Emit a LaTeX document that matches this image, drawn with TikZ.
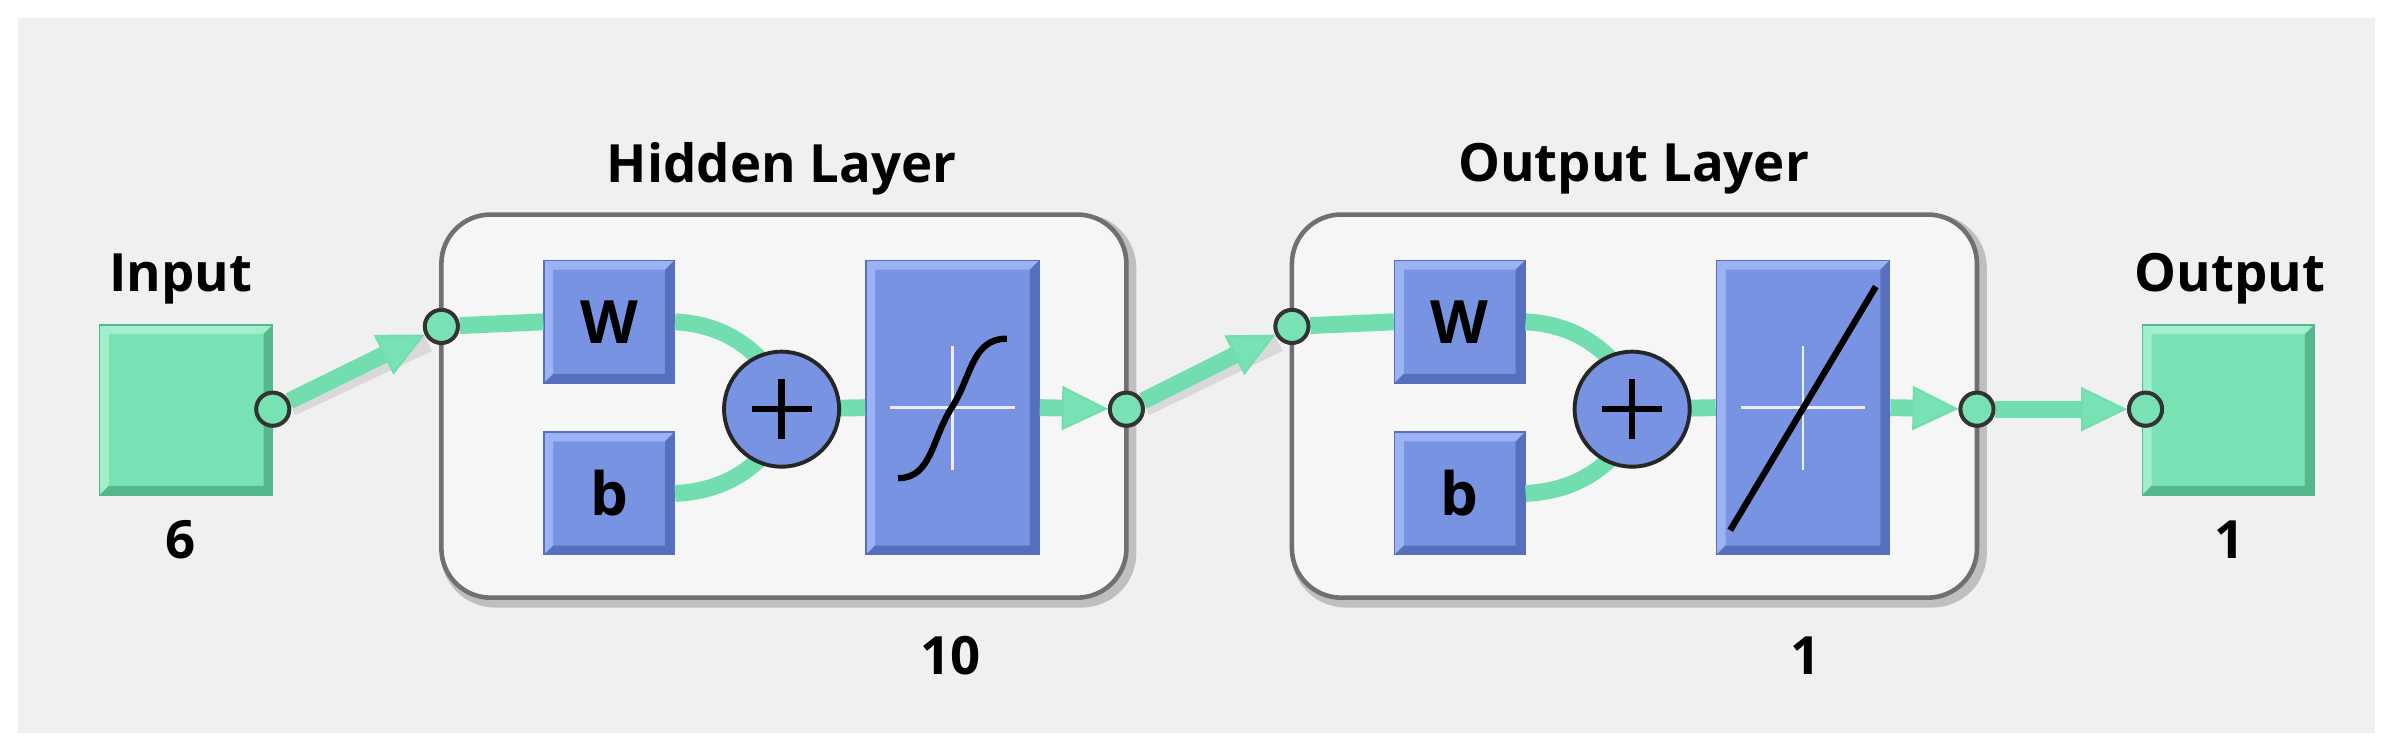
\documentclass[tikz,border=0pt]{standalone}
\usepackage{fontspec}
\setmainfont{Open Sans}
\usetikzlibrary{arrows.meta}
\definecolor{bg}{HTML}{F0F0F0}
\definecolor{gfill}{HTML}{78E2B4}
\definecolor{glight}{HTML}{A0EECC}
\definecolor{gdark}{HTML}{55B88C}
\definecolor{gline}{HTML}{72DDAE}
\definecolor{bfill}{HTML}{7893E2}
\definecolor{blight}{HTML}{9DB2F2}
\definecolor{bdark}{HTML}{5770BE}
\definecolor{frame}{HTML}{707070}
\tikzset{
  x=0.015325cm, y=-0.015325cm,
  lbl/.style={font=\bfseries\fontsize{15}{18}\selectfont, inner sep=0},
  bevel/.style 2 args={path picture={
    \fill[#1] (path picture bounding box.north west) -- (path picture bounding box.north east) -- ([shift={(-6,6)}]path picture bounding box.north east) -- ([shift={(6,6)}]path picture bounding box.north west) -- ([shift={(6,-6)}]path picture bounding box.south west) -- (path picture bounding box.south west) -- cycle;
    \fill[#2] (path picture bounding box.south east) -- (path picture bounding box.north east) -- ([shift={(-6,6)}]path picture bounding box.north east) -- ([shift={(-6,-6)}]path picture bounding box.south east) -- ([shift={(6,-6)}]path picture bounding box.south west) -- (path picture bounding box.south west) -- cycle;}},
  gbox/.style={rectangle, fill=gfill, draw=gdark, line width=0.4pt, inner sep=0, bevel={glight}{gdark}},
  bbox/.style={rectangle, fill=bfill, draw=bdark, line width=0.4pt, inner sep=0, bevel={blight}{bdark}, font=\bfseries\fontsize{17}{20}\selectfont},
  dot/.style={circle, fill=gfill, draw=black!80, line width=1.1pt, minimum size=0.33cm, inner sep=0},
  wire/.style={draw=gline, line width=4.8pt},
  shadow/.style={draw=black!15, line width=4.8pt},
  arr/.style={wire, -{Triangle[length=0.46cm, width=0.44cm, fill=gfill, line width=0.6pt]}},
  layer/.style={rectangle, rounded corners=14pt, draw=frame, line width=1.3pt, fill=bg!60!white},
  plus/.style={circle, fill=bfill, draw=black!85, line width=1.1pt, minimum size=1.15cm, inner sep=0},
}
\begin{document}
\begin{tikzpicture}
\useasboundingbox (0,0) rectangle (1568,490);
\fill[white] (0,0) rectangle (1568,490);
\fill[bg] (12,12) rectangle (1550,478);

\draw[black!25, line width=3pt, rounded corners=14pt] (291,143) rectangle (738,393);
\node[layer, minimum width=447*0.015325cm, minimum height=250*0.015325cm] (hl) at (511.5,265) {};
\draw[black!25, line width=3pt, rounded corners=14pt] (846,143) rectangle (1293,393);
\node[layer, minimum width=447*0.015325cm, minimum height=250*0.015325cm] (ol) at (1066.5,265) {};
\node[lbl] (hlt) at (510,110) {Hidden Layer};
\node[lbl] (olt) at (1066,110) {Output Layer};
\node[lbl] (hn) at (620,428) {10};
\node[lbl] (on) at (1178,428) {1};

\node[gbox, minimum width=113*0.015325cm, minimum height=111*0.015325cm] (in) at (121.5,267.5) {};
\node[lbl] (int) at (118,182) {Input};
\node[lbl] (inn) at (118,352) {6};
\node[gbox, minimum width=112*0.015325cm, minimum height=111*0.015325cm] (out) at (1454,267.5) {};
\node[lbl] (outt) at (1455,182) {Output};
\node[lbl] (outn) at (1455,352) {1};

\node[bbox, minimum width=85*0.015325cm, minimum height=80*0.015325cm] (w1) at (397.5,210) {W};
\node[bbox, minimum width=85*0.015325cm, minimum height=80*0.015325cm] (b1) at (397.5,322) {b};
\node[bbox, minimum width=113*0.015325cm, minimum height=192*0.015325cm] (t1) at (621.5,266) {};
\node[bbox, minimum width=85*0.015325cm, minimum height=80*0.015325cm] (w2) at (952.5,210) {W};
\node[bbox, minimum width=85*0.015325cm, minimum height=80*0.015325cm] (b2) at (952.5,322) {b};
\node[bbox, minimum width=113*0.015325cm, minimum height=192*0.015325cm] (t2) at (1176.5,266) {};

\draw[wire] (w1.east) .. controls (478,212) and (495,232) .. (510,250);
\draw[wire] (b1.east) .. controls (478,320) and (495,302) .. (510,284);
\draw[wire] (510,267) -- (t1.west);
\draw[wire] (w2.east) .. controls (1033,212) and (1050,232) .. (1065,250);
\draw[wire] (b2.east) .. controls (1033,320) and (1050,302) .. (1065,284);
\draw[wire] (1065,267) -- (t2.west);
\node[plus] (p1) at (510,267) {};
\node[plus] (p2) at (1065,267) {};

\foreach \p in {p1,p2}{
  \draw[black, line width=1.8pt] ([xshift=-0.3cm]\p.center) -- ([xshift=0.3cm]\p.center);
  \draw[black, line width=1.8pt] ([yshift=-0.3cm]\p.center) -- ([yshift=0.3cm]\p.center);
}
\foreach \t in {t1,t2}{
  \draw[white!85!bfill, line width=0.8pt] ([xshift=-0.62cm]\t.center) -- ([xshift=0.62cm]\t.center);
  \draw[white!85!bfill, line width=0.8pt] ([yshift=-0.62cm]\t.center) -- ([yshift=0.62cm]\t.center);
}
\draw[black, line width=1.8pt] (586,312) .. controls (608,312) and (608,286) .. (621,266) .. controls (634,246) and (634,221) .. (657,221);
\draw[black, line width=1.8pt] (1129,346) -- (1224,187);

\node[dot] (d0) at (178,267) {};
\node[dot] (d1) at (288,213) {};
\node[dot] (d2) at (735,267) {};
\node[dot] (d3) at (843,213) {};
\node[dot] (d4) at (1290,267) {};
\node[dot] (d5) at (1400,267) {};

\draw[wire] (d1) -- (w1.west);
\draw[wire] (d3) -- (w2.west);
\draw[shadow] ([shift={(2,5)}]d0.30) -- ([shift={(2,5)}]d1.210);
\draw[arr] (d0) -- (d1);
\draw[arr] (t1.east) -- (d2);
\draw[shadow] ([shift={(2,5)}]d2.30) -- ([shift={(2,5)}]d3.210);
\draw[arr] (d2) -- (d3);
\draw[arr] (t2.east) -- (d4);
\draw[arr] (d4) -- (d5);
\node[dot] at (d0) {};
\node[dot] at (d1) {};
\node[dot] at (d2) {};
\node[dot] at (d3) {};
\node[dot] at (d4) {};
\node[dot] at (d5) {};
\end{tikzpicture}
\end{document}
